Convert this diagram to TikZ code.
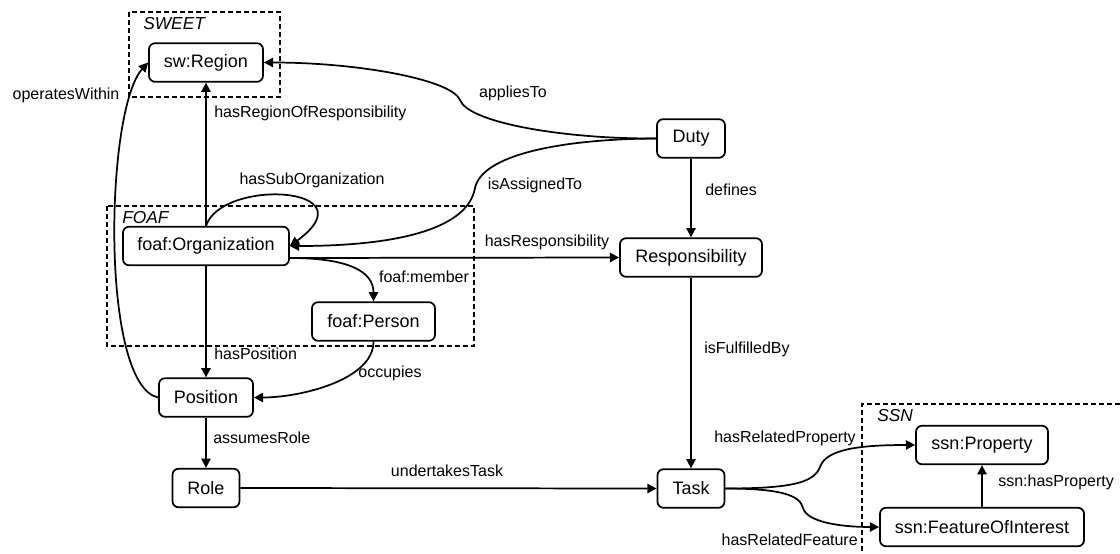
\documentclass[tikz,border=0pt]{standalone}
\usepackage{fontspec}
\setmainfont{Liberation Sans}
\usetikzlibrary{arrows.meta,calc}
\begin{document}
\begin{tikzpicture}[x=0.75pt,y=-0.75pt,
  box/.style={draw,line width=1.3pt,rounded corners=4.5pt,minimum height=28.9pt,inner sep=0pt,font=\fontsize{13.5}{16}\selectfont},
  rel/.style={line width=1.3pt,-{Triangle[length=7pt,width=7pt]}},
  lbl/.style={font=\fontsize{12}{14}\selectfont,inner sep=0pt},
  grp/.style={line width=1pt,dash pattern=on 3.5pt off 2.5pt},
  grplbl/.style={font=\fontsize{13}{15}\selectfont\itshape,inner sep=0pt}]
\useasboundingbox (0,0) rectangle (1120,553);

% groups
\draw[grp] (129,12) rectangle (280,97);
\node[grplbl,anchor=west] (sweetlbl) at (143,24) {SWEET};
\draw[grp] (107,206) rectangle (474,346);
\node[grplbl,anchor=west] (foaflbl) at (122,218) {FOAF};
\draw[grp] (1120,404) -- (862,404) -- (862,553);
\node[grplbl,anchor=west] (ssnlbl) at (877,416) {SSN};

% nodes
\node[box,minimum width=85.5pt] (region) at (206,62.5) {sw:Region};
\node[box,minimum width=124.5pt] (org) at (206,246) {foaf:Organization};
\node[box,minimum width=92.25pt] (person) at (373.5,321.5) {foaf:Person};
\node[box,minimum width=70.5pt] (pos) at (206,397.5) {Position};
\node[box,minimum width=50.25pt] (role) at (206,488) {Role};
\node[box,minimum width=50.25pt] (task) at (691,488.5) {Task};
\node[box,minimum width=51pt] (duty) at (691,138.5) {Duty};
\node[box,minimum width=106.5pt] (resp) at (691,257.5) {Responsibility};
\node[box,minimum width=99pt] (prop) at (982,445) {ssn:Property};
\node[box,minimum width=153pt] (foi) at (982,527) {ssn:FeatureOfInterest};

% waypoints
\coordinate (k1) at (460,100);
\coordinate (k2) at (475,188);
\coordinate (k3) at (820,467);
\coordinate (k4) at (803,508);

% edges
\draw[rel] (org.north) -- (region.south);
\draw[rel] (org.north) .. controls (222,178) and (372,186) .. (org.east);
\draw[rel] (duty.west) .. controls (560,139) and (468,122) .. (k1) .. controls (452,80) and (360,62.5) .. (region.east);
\draw[rel] (duty.west) .. controls (560,139) and (482,155) .. (k2) .. controls (468,228) and (400,246) .. (org.east);
\draw[rel] (duty.south) -- (resp.north);
\draw[rel] ($(org.east)+(0,12)$) -- (resp.west);
\draw[rel] ($(org.east)+(0,12)$) .. controls (350,258) and (373.5,272) .. (person.north);
\draw[rel] (org.south) -- (pos.north);
\draw[rel] (person.south) .. controls (373.5,380) and (300,397.5) .. (pos.east);
\draw[rel] (pos.west) .. controls (100,385) and (105,110) .. (region.west);
\draw[rel] (pos.south) -- (role.north);
\draw[rel] (role.east) -- (task.west);
\draw[rel] (resp.south) -- (task.north);
\draw[rel] (task.east) .. controls (790,488.5) and (814,483) .. (k3) .. controls (826,449) and (860,445) .. (prop.west);
\draw[rel] (task.east) .. controls (780,488.5) and (800,495) .. (k4) .. controls (807,522) and (840,527) .. (foi.west);
\draw[rel] (foi.north) -- (prop.south);

% labels
\node[lbl] (l1) at (66,95) {operatesWithin};
\node[lbl,anchor=west] (l2) at (214,113) {hasRegionOfResponsibility};
\node[lbl] (l3) at (312,180) {hasSubOrganization};
\node[lbl] (l4) at (513,93) {appliesTo};
\node[lbl] (l5) at (535,185) {isAssignedTo};
\node[lbl,anchor=west] (l6) at (705,190) {defines};
\node[lbl] (l7) at (547,242) {hasResponsibility};
\node[lbl] (l8) at (424,277) {foaf:member};
\node[lbl,anchor=west] (l9) at (214,354) {hasPosition};
\node[lbl] (l10) at (390,373) {occupies};
\node[lbl,anchor=west] (l11) at (213,438) {assumesRole};
\node[lbl] (l12) at (447,471) {undertakesTask};
\node[lbl,anchor=west] (l13) at (704,349) {isFulfilledBy};
\node[lbl,anchor=east] (l14) at (856,438) {hasRelatedProperty};
\node[lbl,anchor=east] (l15) at (858,540) {hasRelatedFeature};
\node[lbl,anchor=west] (l16) at (998,482) {ssn:hasProperty};
\end{tikzpicture}
\end{document}
